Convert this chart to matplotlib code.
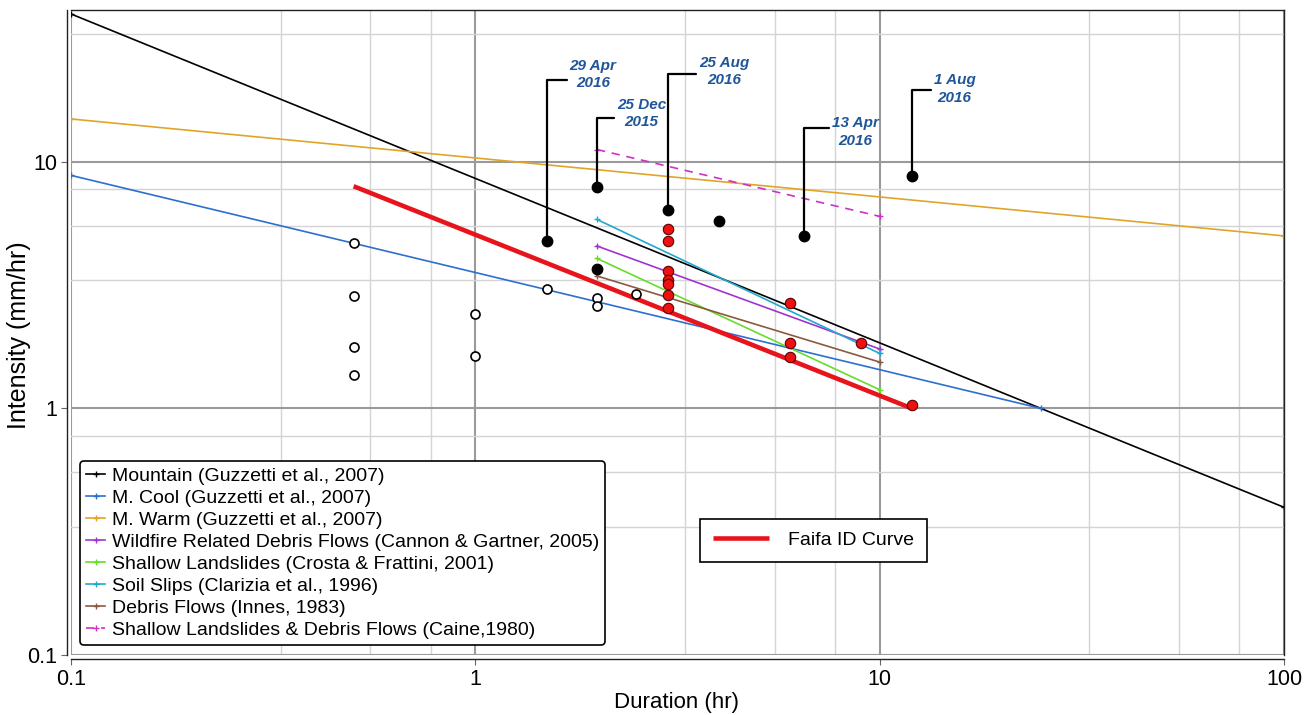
import matplotlib
matplotlib.use('Agg')
import matplotlib.pyplot as plt
from matplotlib.ticker import FixedLocator, NullFormatter, FixedFormatter
import numpy as np

plt.rcParams['font.family'] = ['Liberation Sans', 'DejaVu Sans']

# ---- threshold curves: duration (hr), intensity (mm/hr) ----
mountain_d = [0.1, 100];  mountain_i = [39.7, 0.397]
cool_d = [0.1, 25];       cool_i = [8.8, 1.0]
warm_d = [0.1, 100];      warm_i = [14.9, 5.0]
wildfire_d = [2, 10];     wildfire_i = [4.55, 1.74]
shallow_d = [2, 10];      shallow_i = [4.05, 1.19]
soil_d = [2, 10];         soil_i = [5.83, 1.67]
innes_d = [2, 10];        innes_i = [3.44, 1.54]
caine_d = [2, 10];        caine_i = [11.2, 6.0]
faifa_d = [0.5, 12];      faifa_i = [7.95, 1.0]

# ---- rainfall events ----
open_d = [0.5, 0.5, 0.5, 0.5, 1, 1, 1.5, 2, 2, 2.5]
open_i = [4.67, 2.85, 1.77, 1.36, 2.41, 1.63, 3.04, 2.80, 2.61, 2.90]
black_d = [4, 2]
black_i = [5.74, 3.67]
red_d = [3, 3, 3, 3, 3, 3, 3, 6, 6, 6, 9, 12]
red_i = [5.32, 4.77, 3.60, 3.31, 3.18, 2.88, 2.56, 2.67, 1.84, 1.61, 1.84, 1.03]

event_labels = ['29 Apr\n2016', '25 Dec\n2015', '25 Aug\n2016', '13 Apr\n2016', '1 Aug\n2016']
event_d = [1.5, 2, 3, 6.5, 12]
event_i = [4.76, 7.88, 6.36, 4.99, 8.76]

legend_labels = [
    'Mountain (Guzzetti et al., 2007)',
    'M. Cool (Guzzetti et al., 2007)',
    'M. Warm (Guzzetti et al., 2007)',
    'Wildfire Related Debris Flows (Cannon & Gartner, 2005)',
    'Shallow Landslides (Crosta & Frattini, 2001)',
    'Soil Slips (Clarizia et al., 1996)',
    'Debris Flows (Innes, 1983)',
    'Shallow Landslides & Debris Flows (Caine,1980)',
]

x_ticks = [0.1, 1, 10, 100]
x_tick_labels = ['0.1', '1', '10', '100']
y_ticks = [0.1, 1, 10]
y_tick_labels = ['0.1', '1', '10']

# ---- figure ----
W, H = 1309, 715
fig = plt.figure(figsize=(W / 100, H / 100), dpi=100)
ax = fig.add_axes([71 / W, (H - 655) / H, (1284 - 71) / W, (655 - 10) / H])
ax.set_xscale('log')
ax.set_yscale('log')
ax.set_xlim(0.1, 100)
ax.set_ylim(0.1, 41.2)

minor_fracs = [3.3, 5.5, 7.75]
xminor = [m * d for d in [0.1, 1, 10] for m in minor_fracs]
yminor = [m * d for d in [0.1, 1, 10] for m in minor_fracs]
ax.xaxis.set_major_locator(FixedLocator(x_ticks))
ax.xaxis.set_major_formatter(FixedFormatter(x_tick_labels))
ax.yaxis.set_major_locator(FixedLocator(y_ticks))
ax.yaxis.set_major_formatter(FixedFormatter(y_tick_labels))
ax.xaxis.set_minor_locator(FixedLocator(xminor))
ax.yaxis.set_minor_locator(FixedLocator(yminor))
ax.xaxis.set_minor_formatter(NullFormatter())
ax.yaxis.set_minor_formatter(NullFormatter())
ax.tick_params(which='minor', length=0)
ax.tick_params(which='major', length=4, color='#666666', labelsize=15.5, pad=3)

ax.grid(which='major', color='#9a9a9a', lw=1.5, zorder=0)
ax.grid(which='minor', color='#d4d4d4', lw=1.0, zorder=0)
ax.set_axisbelow(True)

for s in ['left', 'bottom']:
    ax.spines[s].set_position(('outward', 3))
for s in ax.spines.values():
    s.set_color('#222222')
    s.set_linewidth(1.0)

lw = 1.2
mk = dict(marker='+', markersize=5, markeredgewidth=1.0)
handles = []
handles += ax.plot(mountain_d, mountain_i, color='black', lw=lw, **mk)
handles += ax.plot(cool_d, cool_i, color='#2c6fd1', lw=lw, **mk)
handles += ax.plot(warm_d, warm_i, color='#e0a528', lw=lw, **mk)
handles += ax.plot(wildfire_d, wildfire_i, color='#a033d0', lw=lw, **mk)
handles += ax.plot(shallow_d, shallow_i, color='#66dd2a', lw=lw, **mk)
handles += ax.plot(soil_d, soil_i, color='#22a8cc', lw=lw, **mk)
handles += ax.plot(innes_d, innes_i, color='#8a5a40', lw=lw, **mk)
handles += ax.plot(caine_d, caine_i, color='#d030c8', lw=lw, ls=(0, (5, 4)), **mk)
faifa, = ax.plot(faifa_d, faifa_i, color='#e8141c', lw=3.3, solid_capstyle='butt')

# annotations (leader offsets in pixels: dx to text left, dy to text centre, join height)
leader = [(23, 167, 0.30), (20, 74, 0.36), (31, 139, 0.40), (28, 104, 0.62), (22, 87, 0.47)]
for lab, d, i, (dx, dy, ry) in zip(event_labels, event_d, event_i, leader):
    ax.annotate(lab, xy=(d, i), xytext=(dx, dy), textcoords='offset pixels',
                ha='left', va='center', multialignment='center',
                color='#1f569a', fontsize=11, fontweight='bold', fontstyle='italic',
                linespacing=1.3, zorder=4,
                arrowprops=dict(arrowstyle='-', color='black', lw=1.6, shrinkA=0, shrinkB=0,
                                relpos=(0, ry),
                                connectionstyle='angle,angleA=0,angleB=90,rad=0'))

ax.plot(open_d, open_i, ls='none', marker='o', markersize=6.5, markerfacecolor='white',
        markeredgecolor='black', markeredgewidth=1.2, zorder=5)
ax.plot(red_d, red_i, ls='none', marker='o', markersize=7.5, markerfacecolor='#ee1111',
        markeredgecolor='#5a0000', markeredgewidth=0.8, zorder=5)
ax.plot(event_d + black_d, event_i + black_i, ls='none', marker='o', markersize=7.5,
        markerfacecolor='black', markeredgecolor='black', zorder=6)

ax.set_xlabel('Duration (hr)', fontsize=16)
ax.set_ylabel('Intensity (mm/hr)', fontsize=18)
ax.xaxis.set_label_coords((676 - 71) / (1284 - 71), (655 - 692) / (655 - 10))
ax.yaxis.set_label_coords((31 - 71) / (1284 - 71), (655 - 335) / (655 - 10))

leg1 = ax.legend(handles, legend_labels, loc='lower left',
                 bbox_to_anchor=(80 / W, (H - 645) / H), bbox_transform=fig.transFigure,
                 fontsize=14, frameon=True, fancybox=True, edgecolor='black', framealpha=1,
                 handlelength=1.0, handletextpad=0.35, labelspacing=0.23, borderpad=0.3,
                 borderaxespad=0)
leg1.get_frame().set_linewidth(1.2)
for h in leg1.legend_handles:
    h.set_markersize(4)
ax.add_artist(leg1)

leg2 = ax.legend([faifa], ['Faifa ID Curve'], loc='upper left',
                 bbox_to_anchor=(700 / W, (H - 519) / H), bbox_transform=fig.transFigure,
                 fontsize=14, frameon=True, fancybox=False, edgecolor='black', framealpha=1,
                 handlelength=2.9, handletextpad=1.0, borderpad=0.65, borderaxespad=0)
leg2.get_frame().set_linewidth(1.2)

fig.savefig('out.png', dpi=100)
